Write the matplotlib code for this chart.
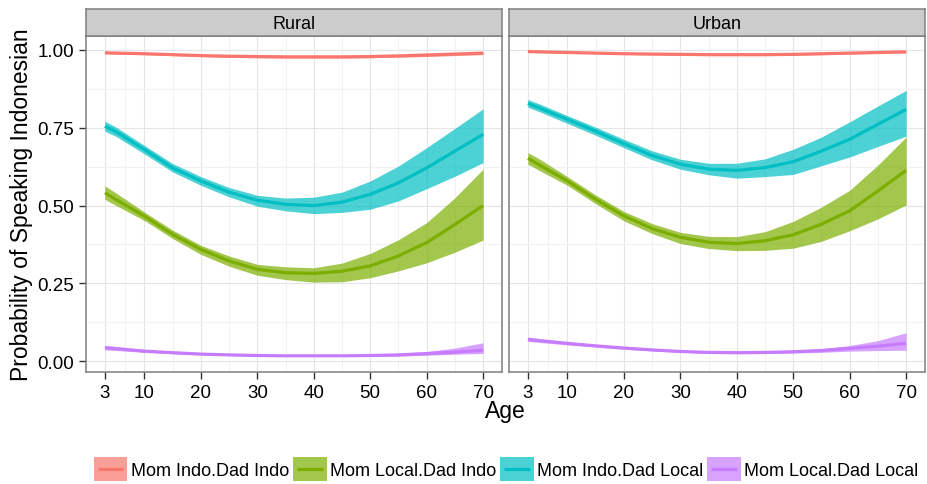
import matplotlib
matplotlib.use("Agg")
import matplotlib.pyplot as plt
from matplotlib.patches import Patch
from matplotlib.lines import Line2D
from matplotlib.legend_handler import HandlerTuple, HandlerLine2D

plt.rcParams['font.family'] = ['Liberation Sans', 'DejaVu Sans']

# ---------------- data ----------------
ages = [3, 5, 10, 15, 20, 25, 30, 35, 40, 45, 50, 55, 60, 65, 70]

groups = ["Mom Indo.Dad Indo", "Mom Local.Dad Indo", "Mom Indo.Dad Local", "Mom Local.Dad Local"]
colors = ["#F8766D", "#7CAE00", "#00BFC4", "#C77CFF"]
panels = ["Rural", "Urban"]

x_ticks = [3, 10, 20, 30, 40, 50, 60, 70]
x_minor = [6.5, 15, 25, 35, 45, 55, 65]
y_ticks = [0.0, 0.25, 0.50, 0.75, 1.00]
y_ticklabels = ["0.00", "0.25", "0.50", "0.75", "1.00"]
y_minor = [0.125, 0.375, 0.625, 0.875]

# Rural
rural_ii_fit = [0.991, 0.990, 0.988, 0.985, 0.982, 0.980, 0.979, 0.978, 0.978, 0.978, 0.979, 0.981, 0.984, 0.987, 0.990]
rural_ii_lo  = [0.988, 0.987, 0.985, 0.982, 0.979, 0.976, 0.975, 0.974, 0.974, 0.974, 0.975, 0.977, 0.979, 0.982, 0.985]
rural_ii_hi  = [0.994, 0.993, 0.991, 0.988, 0.985, 0.983, 0.982, 0.981, 0.981, 0.981, 0.982, 0.984, 0.987, 0.991, 0.994]

rural_li_fit = [0.541, 0.519, 0.466, 0.407, 0.359, 0.322, 0.295, 0.284, 0.282, 0.289, 0.306, 0.338, 0.381, 0.439, 0.500]
rural_li_lo  = [0.520, 0.500, 0.452, 0.394, 0.343, 0.305, 0.276, 0.262, 0.254, 0.255, 0.268, 0.290, 0.316, 0.350, 0.389]
rural_li_hi  = [0.563, 0.540, 0.479, 0.421, 0.372, 0.338, 0.311, 0.303, 0.300, 0.315, 0.346, 0.390, 0.445, 0.525, 0.617]

rural_il_fit = [0.755, 0.737, 0.680, 0.621, 0.579, 0.543, 0.517, 0.504, 0.500, 0.511, 0.536, 0.573, 0.621, 0.675, 0.729]
rural_il_lo  = [0.739, 0.722, 0.666, 0.608, 0.565, 0.528, 0.498, 0.483, 0.474, 0.478, 0.488, 0.515, 0.554, 0.594, 0.638]
rural_il_hi  = [0.771, 0.752, 0.693, 0.635, 0.593, 0.558, 0.533, 0.524, 0.527, 0.543, 0.579, 0.627, 0.686, 0.748, 0.811]

rural_ll_fit = [0.043, 0.040, 0.032, 0.027, 0.0225, 0.020, 0.018, 0.017, 0.017, 0.017, 0.018, 0.020, 0.024, 0.029, 0.035]
rural_ll_lo  = [0.036, 0.034, 0.028, 0.024, 0.020, 0.018, 0.016, 0.015, 0.015, 0.015, 0.015, 0.016, 0.019, 0.022, 0.025]
rural_ll_hi  = [0.050, 0.047, 0.037, 0.030, 0.025, 0.022, 0.020, 0.019, 0.019, 0.019, 0.021, 0.025, 0.031, 0.042, 0.059]

# Urban
urban_ii_fit = [0.995, 0.994, 0.992, 0.990, 0.988, 0.987, 0.986, 0.985, 0.985, 0.985, 0.986, 0.988, 0.990, 0.992, 0.994]
urban_ii_lo  = [0.993, 0.992, 0.990, 0.988, 0.986, 0.984, 0.983, 0.982, 0.982, 0.982, 0.983, 0.985, 0.987, 0.989, 0.991]
urban_ii_hi  = [0.997, 0.996, 0.994, 0.992, 0.990, 0.989, 0.988, 0.987, 0.987, 0.987, 0.988, 0.990, 0.992, 0.995, 0.997]

urban_li_fit = [0.652, 0.631, 0.579, 0.520, 0.467, 0.426, 0.398, 0.382, 0.378, 0.387, 0.406, 0.440, 0.483, 0.547, 0.613]
urban_li_lo  = [0.633, 0.613, 0.565, 0.506, 0.451, 0.410, 0.378, 0.362, 0.355, 0.356, 0.363, 0.385, 0.419, 0.457, 0.502]
urban_li_hi  = [0.670, 0.650, 0.593, 0.534, 0.481, 0.442, 0.414, 0.401, 0.400, 0.416, 0.449, 0.495, 0.549, 0.630, 0.720]

urban_il_fit = [0.828, 0.814, 0.777, 0.739, 0.699, 0.661, 0.633, 0.617, 0.613, 0.622, 0.641, 0.675, 0.713, 0.761, 0.809]
urban_il_lo  = [0.816, 0.802, 0.764, 0.726, 0.686, 0.647, 0.617, 0.599, 0.588, 0.593, 0.600, 0.628, 0.656, 0.690, 0.723]
urban_il_hi  = [0.841, 0.827, 0.789, 0.752, 0.713, 0.676, 0.649, 0.636, 0.636, 0.650, 0.681, 0.720, 0.769, 0.820, 0.870]

urban_ll_fit = [0.070, 0.066, 0.057, 0.049, 0.042, 0.036, 0.031, 0.028, 0.027, 0.028, 0.030, 0.034, 0.041, 0.048, 0.057]
urban_ll_lo  = [0.063, 0.060, 0.052, 0.045, 0.038, 0.033, 0.028, 0.025, 0.024, 0.024, 0.026, 0.028, 0.032, 0.034, 0.035]
urban_ll_hi  = [0.077, 0.072, 0.062, 0.053, 0.046, 0.039, 0.034, 0.031, 0.030, 0.032, 0.035, 0.040, 0.050, 0.066, 0.091]

panel_data = {
    "Rural": [(rural_ii_fit, rural_ii_lo, rural_ii_hi),
              (rural_li_fit, rural_li_lo, rural_li_hi),
              (rural_il_fit, rural_il_lo, rural_il_hi),
              (rural_ll_fit, rural_ll_lo, rural_ll_hi)],
    "Urban": [(urban_ii_fit, urban_ii_lo, urban_ii_hi),
              (urban_li_fit, urban_li_lo, urban_li_hi),
              (urban_il_fit, urban_il_lo, urban_il_hi),
              (urban_ll_fit, urban_ll_lo, urban_ll_hi)],
}

# ---------------- figure ----------------
W, H = 927, 485
fig = plt.figure(figsize=(W / 100, H / 100), dpi=100)
fig.patch.set_facecolor("white")

border_col = "#7F7F7F"
grid_major = "#E5E5E5"
grid_minor = "#F2F2F2"
ribbon_alpha = 0.7
line_w = 2.3

panel_left = [86, 509]
panel_w = 416
panel_top = 37
panel_bottom = 373
strip_top = 10

for i, name in enumerate(panels):
    ax = fig.add_axes([panel_left[i] / W, 1 - panel_bottom / H, panel_w / W, (panel_bottom - panel_top) / H])
    ax.set_facecolor("white")
    for (fit, lo, hi), col in zip(panel_data[name], colors):
        ax.fill_between(ages, lo, hi, color=col, alpha=ribbon_alpha, linewidth=0, zorder=2)
        ax.plot(ages, fit, color=col, linewidth=line_w, solid_capstyle="butt",
                solid_joinstyle="round", zorder=3)
    ax.set_xlim(-0.35, 73.35)
    ax.set_ylim(-0.035, 1.045)
    ax.set_xticks(x_ticks)
    ax.set_xticks(x_minor, minor=True)
    ax.set_yticks(y_ticks)
    ax.set_yticks(y_minor, minor=True)
    ax.set_xticklabels([str(t) for t in x_ticks])
    ax.grid(which="major", color=grid_major, linewidth=0.8, zorder=0)
    ax.grid(which="minor", color=grid_minor, linewidth=0.8, zorder=0)
    ax.set_axisbelow(True)
    ax.tick_params(which="minor", length=0)
    ax.tick_params(which="major", length=5, width=1.0, color="#333333",
                   labelsize=13.5, labelcolor="black", pad=3.5)
    if i == 0:
        ax.set_yticklabels(y_ticklabels)
    else:
        ax.set_yticklabels([])
        ax.tick_params(axis="y", which="both", length=0, left=False, labelleft=False)
    for s in ax.spines.values():
        s.set_color(border_col)
        s.set_linewidth(1.1)

    sax = fig.add_axes([panel_left[i] / W, 1 - panel_top / H, panel_w / W, (panel_top - strip_top) / H])
    sax.set_facecolor("#CCCCCC")
    sax.set_xticks([])
    sax.set_yticks([])
    for s in sax.spines.values():
        s.set_color(border_col)
        s.set_linewidth(1.1)
    sax.text(0.5, 0.47, name, ha="center", va="center", fontsize=13, color="black",
             transform=sax.transAxes)

fig.text((86 + 925) / 2 / W, 1 - 412 / H, "Age", ha="center", va="center", fontsize=16.5)
fig.text(22 / W, 1 - 205 / H, "Probability of Speaking Indonesian", ha="center", va="center",
         rotation=90, fontsize=16.5)


class InsetLineHandler(HandlerLine2D):
    """Legend line inset by 12% on each side, like a ggplot key."""
    def create_artists(self, legend, orig_handle, xdescent, ydescent, width, height, fontsize, trans):
        inset = 0.12 * width
        y = height / 2.0 - ydescent
        line = Line2D([inset - xdescent, width - inset - xdescent], [y, y])
        self.update_prop(line, orig_handle, legend)
        line.set_transform(trans)
        return [line]


handles = []
for col in colors:
    p = Patch(facecolor=col, alpha=ribbon_alpha, edgecolor="none")
    l = Line2D([], [], color=col, linewidth=line_w, solid_capstyle="butt")
    handles.append((p, l))

leg = fig.legend(handles, groups, ncol=4, loc="center", bbox_to_anchor=(506 / W, 1 - 470 / H),
                 frameon=False, fontsize=13, handlelength=1.88, handleheight=1.65,
                 handletextpad=0.17, columnspacing=0.22, borderaxespad=0, borderpad=0,
                 handler_map={tuple: HandlerTuple(ndivide=1, pad=0),
                              Line2D: InsetLineHandler()})

fig.savefig("out.png", dpi=100, facecolor="white")
